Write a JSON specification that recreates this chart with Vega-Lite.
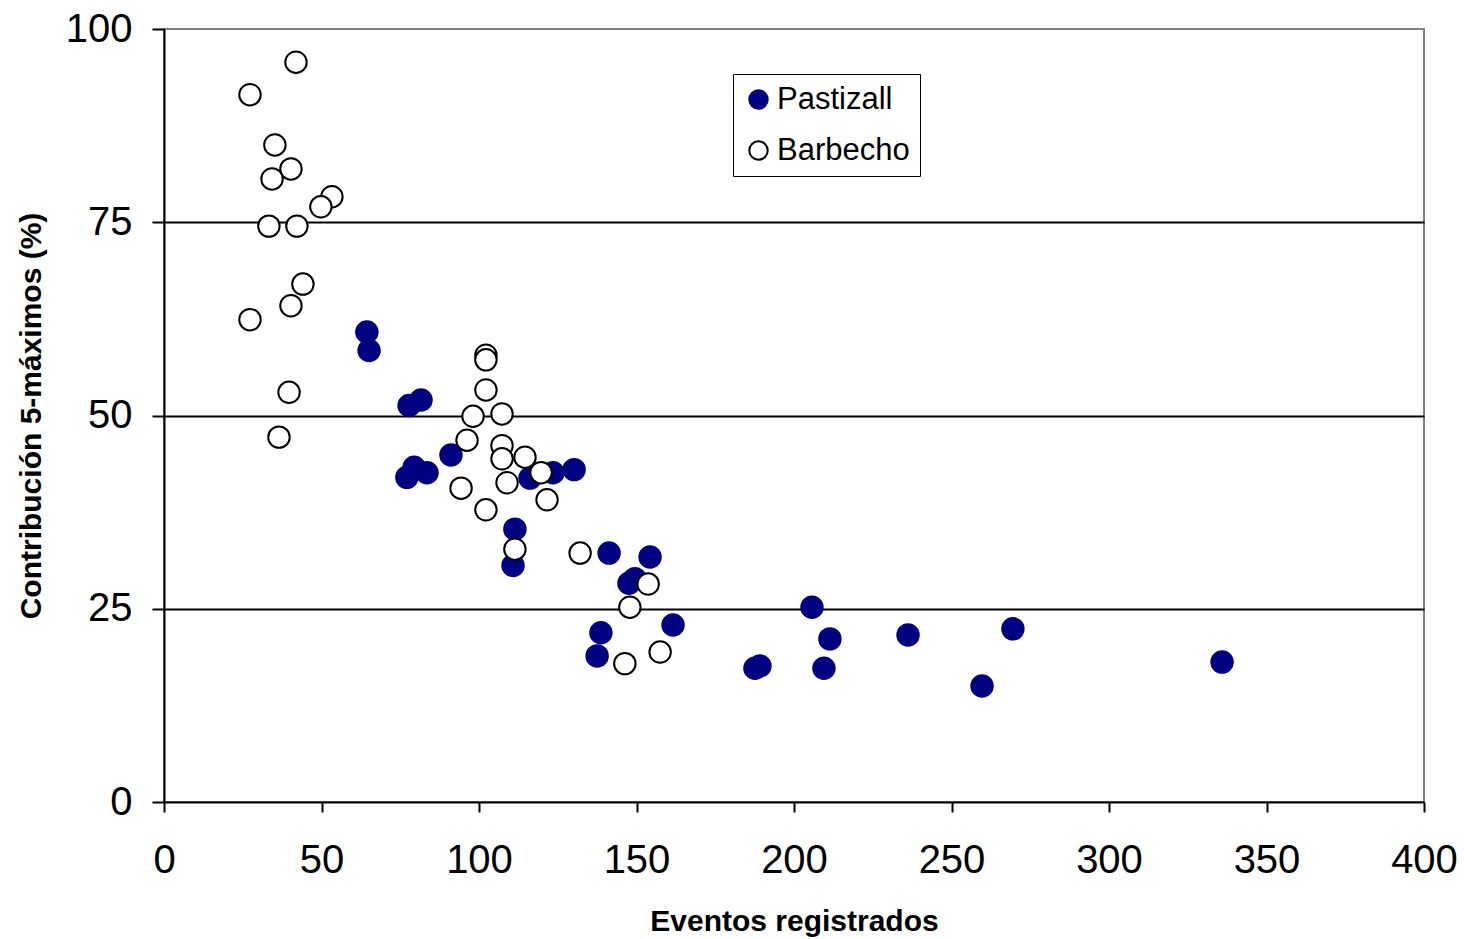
{
  "$schema": "https://vega.github.io/schema/vega-lite/v6.json",
  "width": 1260,
  "height": 773,
  "autosize": {"type": "none"},
  "padding": {"left": 164, "top": 29, "right": 40, "bottom": 137},
  "background": "white",
  "config": {
    "view": {"stroke": "#808080", "strokeWidth": 2},
    "font": "Liberation Sans"
  },
  "data": {
    "values": [
      {"serie": "Pastizall", "eventos": 64.4, "contrib": 60.8},
      {"serie": "Pastizall", "eventos": 65.1, "contrib": 58.4},
      {"serie": "Pastizall", "eventos": 77.8, "contrib": 51.3},
      {"serie": "Pastizall", "eventos": 81.6, "contrib": 52.0},
      {"serie": "Pastizall", "eventos": 79.4, "contrib": 43.3},
      {"serie": "Pastizall", "eventos": 77.1, "contrib": 42.0},
      {"serie": "Pastizall", "eventos": 83.5, "contrib": 42.6},
      {"serie": "Pastizall", "eventos": 91.1, "contrib": 44.9},
      {"serie": "Pastizall", "eventos": 116.2, "contrib": 41.9},
      {"serie": "Pastizall", "eventos": 123.5, "contrib": 42.6},
      {"serie": "Pastizall", "eventos": 130.2, "contrib": 43.0},
      {"serie": "Pastizall", "eventos": 111.4, "contrib": 35.3},
      {"serie": "Pastizall", "eventos": 110.8, "contrib": 30.6},
      {"serie": "Pastizall", "eventos": 141.3, "contrib": 32.2},
      {"serie": "Pastizall", "eventos": 154.3, "contrib": 31.7},
      {"serie": "Pastizall", "eventos": 149.5, "contrib": 28.9},
      {"serie": "Pastizall", "eventos": 147.6, "contrib": 28.3},
      {"serie": "Pastizall", "eventos": 138.7, "contrib": 21.9},
      {"serie": "Pastizall", "eventos": 137.5, "contrib": 18.9},
      {"serie": "Pastizall", "eventos": 161.6, "contrib": 22.9},
      {"serie": "Pastizall", "eventos": 205.7, "contrib": 25.2},
      {"serie": "Pastizall", "eventos": 211.4, "contrib": 21.1},
      {"serie": "Pastizall", "eventos": 209.5, "contrib": 17.3},
      {"serie": "Pastizall", "eventos": 187.6, "contrib": 17.3},
      {"serie": "Pastizall", "eventos": 189.2, "contrib": 17.6},
      {"serie": "Pastizall", "eventos": 236.2, "contrib": 21.6},
      {"serie": "Pastizall", "eventos": 269.5, "contrib": 22.4},
      {"serie": "Pastizall", "eventos": 259.7, "contrib": 15.0},
      {"serie": "Pastizall", "eventos": 335.9, "contrib": 18.1},
      {"serie": "Barbecho", "eventos": 41.9, "contrib": 95.7},
      {"serie": "Barbecho", "eventos": 27.3, "contrib": 91.5},
      {"serie": "Barbecho", "eventos": 35.2, "contrib": 85.0},
      {"serie": "Barbecho", "eventos": 40.3, "contrib": 81.9},
      {"serie": "Barbecho", "eventos": 34.3, "contrib": 80.6},
      {"serie": "Barbecho", "eventos": 53.3, "contrib": 78.3},
      {"serie": "Barbecho", "eventos": 49.8, "contrib": 77.0},
      {"serie": "Barbecho", "eventos": 33.3, "contrib": 74.5},
      {"serie": "Barbecho", "eventos": 42.2, "contrib": 74.5},
      {"serie": "Barbecho", "eventos": 44.1, "contrib": 67.0},
      {"serie": "Barbecho", "eventos": 40.3, "contrib": 64.2},
      {"serie": "Barbecho", "eventos": 27.3, "contrib": 62.4},
      {"serie": "Barbecho", "eventos": 39.7, "contrib": 53.0},
      {"serie": "Barbecho", "eventos": 36.5, "contrib": 47.2},
      {"serie": "Barbecho", "eventos": 102.2, "contrib": 57.8},
      {"serie": "Barbecho", "eventos": 102.2, "contrib": 57.2},
      {"serie": "Barbecho", "eventos": 102.2, "contrib": 53.3},
      {"serie": "Barbecho", "eventos": 98.1, "contrib": 49.9},
      {"serie": "Barbecho", "eventos": 107.3, "contrib": 50.2},
      {"serie": "Barbecho", "eventos": 96.2, "contrib": 46.8},
      {"serie": "Barbecho", "eventos": 107.3, "contrib": 46.1},
      {"serie": "Barbecho", "eventos": 107.3, "contrib": 44.4},
      {"serie": "Barbecho", "eventos": 114.6, "contrib": 44.6},
      {"serie": "Barbecho", "eventos": 119.7, "contrib": 42.6},
      {"serie": "Barbecho", "eventos": 94.3, "contrib": 40.6},
      {"serie": "Barbecho", "eventos": 108.9, "contrib": 41.3},
      {"serie": "Barbecho", "eventos": 121.6, "contrib": 39.1},
      {"serie": "Barbecho", "eventos": 102.2, "contrib": 37.8},
      {"serie": "Barbecho", "eventos": 111.4, "contrib": 32.7},
      {"serie": "Barbecho", "eventos": 132.1, "contrib": 32.2},
      {"serie": "Barbecho", "eventos": 153.7, "contrib": 28.2},
      {"serie": "Barbecho", "eventos": 147.9, "contrib": 25.2},
      {"serie": "Barbecho", "eventos": 157.5, "contrib": 19.4},
      {"serie": "Barbecho", "eventos": 146.3, "contrib": 17.9}
    ]
  },
  "mark": {"type": "point", "shape": "circle", "filled": true, "size": 460, "strokeWidth": 2, "opacity": 1},
  "encoding": {
    "x": {
      "field": "eventos", "type": "quantitative",
      "scale": {"domain": [0, 400], "nice": false, "zero": true},
      "axis": {
        "title": "Eventos registrados",
        "values": [0, 50, 100, 150, 200, 250, 300, 350, 400],
        "grid": false,
        "domainColor": "black", "domainWidth": 2,
        "tickColor": "black", "tickWidth": 2, "tickSize": 10,
        "labelFont": "Liberation Sans", "labelFontSize": 40, "labelColor": "black",
        "labelPadding": 28, "labelFlush": false,
        "titleFont": "Liberation Sans", "titleFontSize": 30, "titleFontWeight": "bold", "titleColor": "black",
        "titlePadding": 26
      }
    },
    "y": {
      "field": "contrib", "type": "quantitative",
      "scale": {"domain": [0, 100], "nice": false},
      "axis": {
        "title": "Contribución 5-máximos (%)",
        "values": [0, 25, 50, 75, 100],
        "grid": true,
        "gridColor": {"condition": {"test": "datum.value == 100 || datum.value == 0", "value": "transparent"}, "value": "black"},
        "gridWidth": 2,
        "domainColor": "black", "domainWidth": 2,
        "tickColor": "black", "tickWidth": 2, "tickSize": 12,
        "labelFont": "Liberation Sans", "labelFontSize": 40, "labelColor": "black",
        "labelPadding": 20, "labelFlush": false,
        "titleFont": "Liberation Sans", "titleFontSize": 30, "titleFontWeight": "bold", "titleColor": "black",
        "titlePadding": 19
      }
    },
    "fill": {
      "field": "serie", "type": "nominal",
      "scale": {"domain": ["Pastizall", "Barbecho"], "range": ["#000080", "#ffffff"]},
      "legend": {
        "title": null, "orient": "none", "legendX": 569, "legendY": 45,
        "direction": "vertical",
        "fillColor": "white", "strokeColor": "black",
        "padding": 10, "rowPadding": 19,
        "symbolSize": 340, "symbolStrokeWidth": 2, "symbolType": "circle",
        "labelFont": "Liberation Sans", "labelFontSize": 31, "labelColor": "black", "labelOffset": 3,
        "labelLimit": 400,
        "encode": {"legend": {"update": {"strokeWidth": {"value": 2}}}}
      }
    },
    "stroke": {
      "field": "serie", "type": "nominal",
      "scale": {"domain": ["Pastizall", "Barbecho"], "range": ["#000080", "#000000"]},
      "legend": null
    }
  }
}
